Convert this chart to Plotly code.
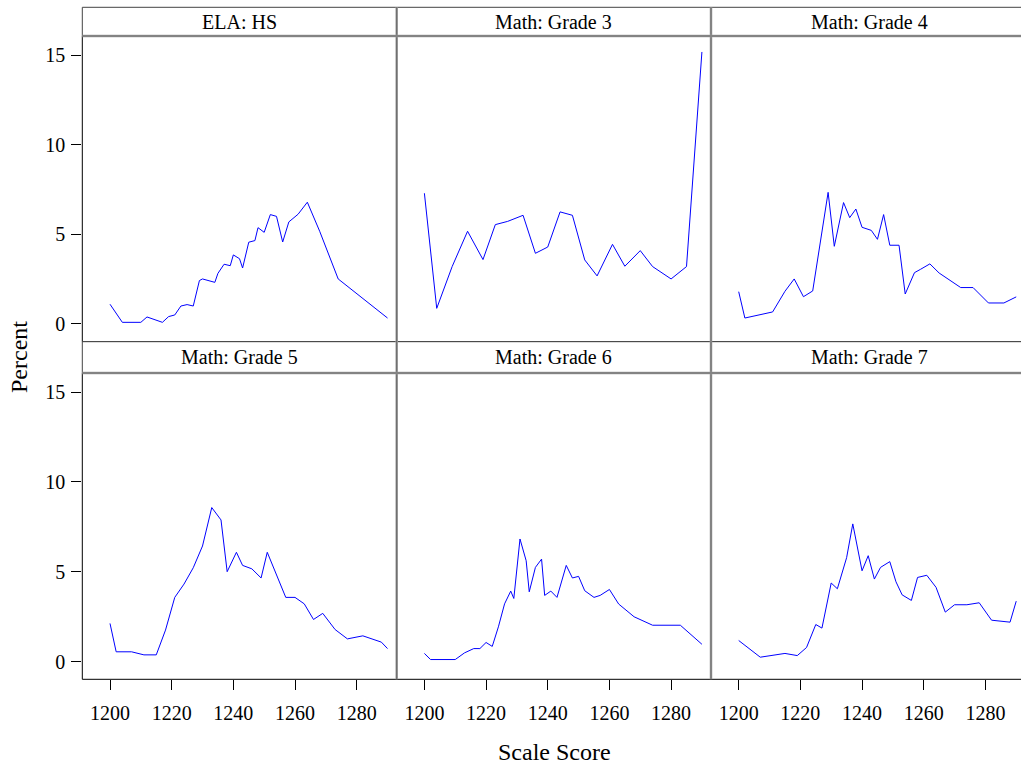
import plotly.graph_objects as go

W, H = 1021, 765

# Panel titles
titles = ["ELA: HS", "Math: Grade 3", "Math: Grade 4",
          "Math: Grade 5", "Math: Grade 6", "Math: Grade 7"]

# Score distributions (scale score, percent of students)
ela_hs_score = [1200, 1204, 1210, 1212, 1217, 1219, 1221, 1223, 1225, 1227, 1229, 1230,
                1234, 1235, 1237, 1239, 1240, 1242, 1243, 1245, 1247, 1248, 1250, 1252,
                1254, 1256, 1258, 1261, 1264, 1268, 1274, 1283, 1290]
ela_hs_pct = [1.10, 0.09, 0.09, 0.39, 0.09, 0.41, 0.50, 1.00, 1.08, 1.00, 2.42, 2.51,
              2.32, 2.82, 3.33, 3.25, 3.85, 3.64, 3.12, 4.56, 4.65, 5.37, 5.11, 6.10,
              6.00, 4.57, 5.69, 6.12, 6.79, 5.17, 2.51, 1.30, 0.33]

g3_score = [1200, 1204, 1209, 1214, 1219, 1223, 1227, 1232, 1236, 1240, 1244, 1248,
            1252, 1256, 1261, 1265, 1270, 1274, 1280, 1285, 1290]
g3_pct = [7.29, 0.87, 3.20, 5.17, 3.59, 5.54, 5.72, 6.06, 3.94, 4.29, 6.25, 6.06,
          3.57, 2.68, 4.44, 3.22, 4.09, 3.20, 2.51, 3.20, 15.17]

g4_score = [1200, 1202, 1211, 1215, 1218, 1221, 1224, 1229, 1231, 1234, 1236, 1238,
            1240, 1243, 1245, 1247, 1249, 1252, 1254, 1257, 1259, 1262, 1265, 1268,
            1272, 1276, 1281, 1286, 1290]
g4_pct = [1.80, 0.33, 0.67, 1.82, 2.51, 1.52, 1.84, 7.34, 4.33, 6.77, 5.93, 6.41,
          5.39, 5.22, 4.72, 6.10, 4.39, 4.39, 1.67, 2.86, 3.05, 3.35, 2.84, 2.51,
          2.03, 2.03, 1.17, 1.17, 1.51]

g5_score = [1200, 1202, 1207, 1211, 1215, 1218, 1221, 1224, 1227, 1230, 1233, 1236,
            1238, 1241, 1243, 1246, 1249, 1251, 1257, 1260, 1263, 1266, 1269, 1273,
            1277, 1282, 1288, 1290]
g5_pct = [2.12, 0.54, 0.54, 0.37, 0.37, 1.75, 3.57, 4.31, 5.22, 6.43, 8.57, 7.88,
          5.00, 6.08, 5.35, 5.16, 4.65, 6.08, 3.57, 3.57, 3.21, 2.34, 2.68, 1.78,
          1.26, 1.43, 1.08, 0.72]

g6_score = [1200, 1202, 1210, 1213, 1216, 1218, 1220, 1222, 1224, 1226, 1228, 1229,
            1231, 1233, 1234, 1236, 1238, 1239, 1241, 1243, 1246, 1248, 1250, 1252,
            1255, 1257, 1260, 1263, 1268, 1274, 1283, 1290]
g6_pct = [0.45, 0.11, 0.11, 0.48, 0.72, 0.72, 1.06, 0.84, 1.93, 3.21, 3.92, 3.51,
          6.82, 5.61, 3.88, 5.24, 5.70, 3.68, 3.92, 3.57, 5.35, 4.65, 4.74, 3.94,
          3.57, 3.68, 4.01, 3.20, 2.49, 2.02, 2.02, 0.96]

g7_score = [1200, 1207, 1215, 1219, 1222, 1225, 1227, 1230, 1232, 1235, 1237, 1240,
            1242, 1244, 1246, 1249, 1251, 1253, 1256, 1258, 1261, 1264, 1267, 1270,
            1274, 1278, 1282, 1288, 1290]
g7_pct = [1.17, 0.24, 0.45, 0.33, 0.78, 2.06, 1.86, 4.37, 4.05, 5.78, 7.66, 5.05,
          5.89, 4.59, 5.24, 5.56, 4.44, 3.71, 3.40, 4.68, 4.80, 4.13, 2.75, 3.16,
          3.16, 3.27, 2.30, 2.19, 3.36]

x_ticks = [1200, 1220, 1240, 1260, 1280]
y_ticks = [0, 5, 10, 15]

series = [(ela_hs_score, ela_hs_pct), (g3_score, g3_pct), (g4_score, g4_pct),
          (g5_score, g5_pct), (g6_score, g6_pct), (g7_score, g7_pct)]

# Layout geometry in pixels
col_edges = [(82.3, 396.7), (396.7, 711.0), (711.0, 1021.0)]
row_plot = [(36.0, 341.7), (373.0, 679.3)]
row_strip = [(7.3, 36.0), (341.7, 373.0)]
px_per_unit = 61.67 / 20.0
x_origin_offset = 27.7  # pixels from panel left edge to score 1200
y_range = [-0.99, 16.06]

FONT = "Liberation Serif"
TICK_SIZE = 20
STRIP_SIZE = 20
TITLE_SIZE = 24

def fx(px):
    return px / W

def fy(py):
    return 1 - py / H

fig = go.Figure()
layout = dict(
    width=W, height=H, autosize=False,
    margin=dict(l=0, r=0, t=0, b=0),
    paper_bgcolor="white", plot_bgcolor="white",
    showlegend=False,
    font=dict(family=FONT, size=TICK_SIZE, color="black"),
)

shapes = []
annotations = []

for i, (xs, ys) in enumerate(series):
    r, c = divmod(i, 3)
    x0, x1 = col_edges[c]
    y0, y1 = row_plot[r]
    sfx = "" if i == 0 else str(i + 1)
    xr0 = 1200 - x_origin_offset / px_per_unit
    xr1 = xr0 + (x1 - x0) / px_per_unit
    bottom = r == 1
    left = c == 0
    layout["xaxis" + sfx] = dict(
        domain=[fx(x0), fx(x1)], range=[xr0, xr1], anchor="y" + sfx,
        showgrid=False, zeroline=False, showline=False,
        tickvals=x_ticks, ticks="outside" if bottom else "", ticklen=10,
        tickwidth=1, tickcolor="black", showticklabels=bottom,
        ticklabelstandoff=6,
        tickfont=dict(family=FONT, size=TICK_SIZE, color="black"),
    )
    layout["yaxis" + sfx] = dict(
        domain=[fy(y1), fy(y0)], range=y_range, anchor="x" + sfx,
        showgrid=False, zeroline=False, showline=False,
        tickvals=y_ticks, ticks="outside" if left else "", ticklen=10,
        tickwidth=1, tickcolor="black", showticklabels=left,
        ticklabelstandoff=2,
        tickfont=dict(family=FONT, size=TICK_SIZE, color="black"),
    )
    fig.add_trace(go.Scatter(
        x=xs, y=ys, mode="lines", xaxis="x" + sfx, yaxis="y" + sfx,
        line=dict(color="#0000ff", width=1), hoverinfo="skip",
    ))

    right_edge = x1 + 6 if c == 2 else x1
    # panel frame
    shapes.append(dict(type="rect", xref="paper", yref="paper",
                       x0=fx(x0), x1=fx(right_edge),
                       y0=fy(y1), y1=fy(y0),
                       line=dict(color="black", width=1), layer="above"))
    # strip box and title
    s0, s1 = row_strip[r]
    shapes.append(dict(type="rect", xref="paper", yref="paper",
                       x0=fx(x0), x1=fx(right_edge),
                       y0=fy(s1), y1=fy(s0),
                       line=dict(color="#444444", width=1), fillcolor="white",
                       layer="above"))
    annotations.append(dict(text=titles[i], xref="paper", yref="paper",
                            x=fx((x0 + x1 + (6 if c == 2 else 0)) / 2),
                            y=fy((s0 + s1) / 2),
                            xanchor="center", yanchor="middle", showarrow=False,
                            font=dict(family=FONT, size=STRIP_SIZE, color="black")))

# grey separators where panels meet
for xv in (396.7, 711.0):
    shapes.append(dict(type="line", xref="paper", yref="paper",
                       x0=fx(xv), x1=fx(xv), y0=fy(679.3), y1=fy(7.3),
                       line=dict(color="#a0a0a0", width=2.5), layer="above"))
    shapes.append(dict(type="line", xref="paper", yref="paper",
                       x0=fx(xv), x1=fx(xv), y0=fy(679.3), y1=fy(7.3),
                       line=dict(color="#666666", width=1), layer="above"))
for yv in (36.0, 373.0):
    shapes.append(dict(type="line", xref="paper", yref="paper",
                       x0=fx(82.3), x1=fx(1030), y0=fy(yv), y1=fy(yv),
                       line=dict(color="#a0a0a0", width=2.5), layer="above"))
    shapes.append(dict(type="line", xref="paper", yref="paper",
                       x0=fx(82.3), x1=fx(1030), y0=fy(yv), y1=fy(yv),
                       line=dict(color="#666666", width=1), layer="above"))

# axis titles
annotations.append(dict(text="Scale Score", xref="paper", yref="paper",
                        x=fx(554), y=fy(752), xanchor="center", yanchor="middle",
                        showarrow=False, font=dict(family=FONT, size=TITLE_SIZE, color="black")))
annotations.append(dict(text="Percent", xref="paper", yref="paper",
                        x=fx(19), y=fy(357), xanchor="center", yanchor="middle",
                        textangle=-90, showarrow=False,
                        font=dict(family=FONT, size=TITLE_SIZE, color="black")))

layout["shapes"] = shapes
layout["annotations"] = annotations
fig.update_layout(**layout)
fig.write_html("out.html")
